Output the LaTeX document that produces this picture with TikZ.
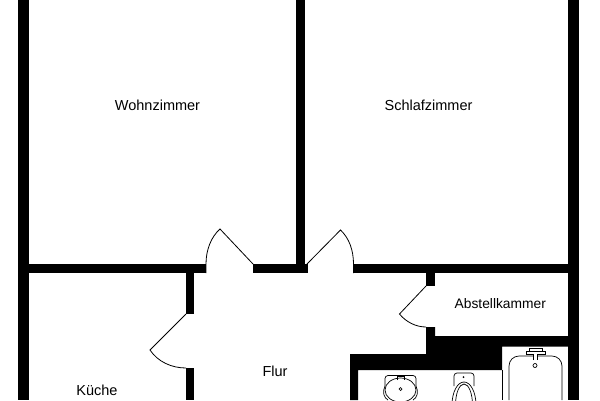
\documentclass[tikz,border=0pt]{standalone}
\usepackage{fontspec}
\setmainfont{Liberation Sans}
\tikzset{
	wall/.style={fill=black},
	door/.style={line width=0.8pt,line join=miter},
	fixture/.style={line width=0.7pt},
	room/.style={font=\fontsize{14.5}{16}\selectfont,inner sep=0pt}
}
\begin{document}
\begin{tikzpicture}[x=1pt,y=-1pt]
	\useasboundingbox (0,0) rectangle (600,400);

	% walls
	\fill[wall] ( 18,  0) rectangle ( 29,400);
	\fill[wall] (296,  0) rectangle (305,264);
	\fill[wall] (568,  0) rectangle (579,400);
	\fill[wall] ( 29,264) rectangle (206,273);
	\fill[wall] (253,264) rectangle (308,273);
	\fill[wall] (353,264) rectangle (568,273);
	\fill[wall] (186,273) rectangle (194,314);
	\fill[wall] (186,368) rectangle (194,400);
	\fill[wall] (426,273) rectangle (435,286);
	\fill[wall] (426,327) -- (435,327) -- (435,336) -- (568,336) -- (568,346.5) -- (502,346.5)
		-- (502,370) -- (358,370) -- (358,400) -- (350,400) -- (350,354) -- (426,354) -- cycle;
	\draw[fixture] (502,370) -- (502,400);

	% doors
	\draw[door] (253,264) -- (220,229) .. controls (211,237) and (206,250) .. (206,264) -- (206,273);
	\draw[door] (307,264) -- (340.5,230) .. controls (349,238) and (353.5,250) .. (353.5,264) -- (353.5,273);
	\draw[door] (186,314) -- (150,350) .. controls (158,362) and (172,368) .. (186,368);
	\draw[door] (426,286) -- (399.5,314) .. controls (406,322) and (416,327) .. (426,327);

	% bath
	\draw[fixture,rounded corners=10] (509,400) -- (509,356) -- (562,356) -- (562,400);
	\draw[fixture] (535,365.5) circle (2);
	\draw[fixture,fill=white] (533,360) -- (533,354) -- (526,354) -- (526,351) -- (529,351) -- (529,348)
		-- (542,348) -- (542,351) -- (545,351) -- (545,354) -- (537,354) -- (537,360);
	\draw[fixture] (529,351) -- (542,351);

	% sink
	\draw[fixture] (400.5,390) ellipse (15.5 and 12);
	\draw[fixture,rounded corners=3] (385,386) -- (385,375.5) -- (416,375.5) -- (416,386);
	\draw[fixture] (385,386) .. controls (382,392) and (384,398) .. (388,400);
	\draw[fixture] (416,386) .. controls (419,392) and (417,398) .. (413,400);
	\draw[fixture] (397.5,380) -- (397.5,376) -- (404,376) -- (404,380);
	\draw[fixture] (400.5,389) circle (1.5);

	% toilet
	\begin{scope}
		\clip (440,370) rectangle (490,400);
		\draw[fixture] (464,405) ellipse (12 and 23);
		\draw[fixture] (464,405) ellipse (8.5 and 21);
	\end{scope}
	\draw[fixture,rounded corners=3] (454,386) -- (454,373) -- (474,373) -- (474,386);
	\fill (463.5,377) circle (1);

	% labels
	\node[room] (wohnzimmer) at (157.5,105) {Wohnzimmer};
	\node[room] (schlafzimmer) at (428.5,105) {Schlafzimmer};
	\node[room,font=\fontsize{13.8}{16}\selectfont] (abstellkammer) at (500.3,304) {Abstellkammer};
	\node[room] (flur) at (275,371) {Flur};
	\node[room] (kueche) at (97,390) {Küche};
\end{tikzpicture}
\end{document}
